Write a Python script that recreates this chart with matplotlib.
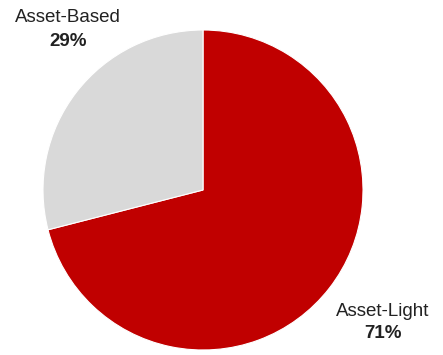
import matplotlib.pyplot as plt

labels = ["Asset-Light", "Asset-Based"]
shares = [71, 29]
colors = ["#C00000", "#D9D9D9"]

plt.rcParams['font.family'] = ['Liberation Sans', 'DejaVu Sans']

fig = plt.figure(figsize=(4.43, 3.55), dpi=100)
cx, cy, r = 203, 190, 160
W, H = 443, 355
ax = fig.add_axes([(cx - r) / W, (H - cy - r) / H, 2 * r / W, 2 * r / H])
ax.pie(shares, colors=colors, startangle=90, counterclock=False,
       radius=1.0, wedgeprops=dict(edgecolor='white', linewidth=0.8))
ax.set_xlim(-1, 1)
ax.set_ylim(-1, 1)
ax.set_aspect('equal')
ax.axis('off')

def px(x, y):
    return (x - cx) / r, (cy - y) / r

label_pos = {"Asset-Light": (383, 312, 333), "Asset-Based": (68, 18, 42)}
for lab, val in zip(labels, shares):
    x, y1, y2 = label_pos[lab]
    ax.text(*px(x, y1), lab, ha='center', va='center', fontsize=13.5,
            color='#222222', clip_on=False)
    ax.text(*px(x, y2), f"{val}%", ha='center', va='center', fontsize=13.5,
            fontweight='bold', color='#222222', clip_on=False)

fig.savefig('out.png', dpi=100)
